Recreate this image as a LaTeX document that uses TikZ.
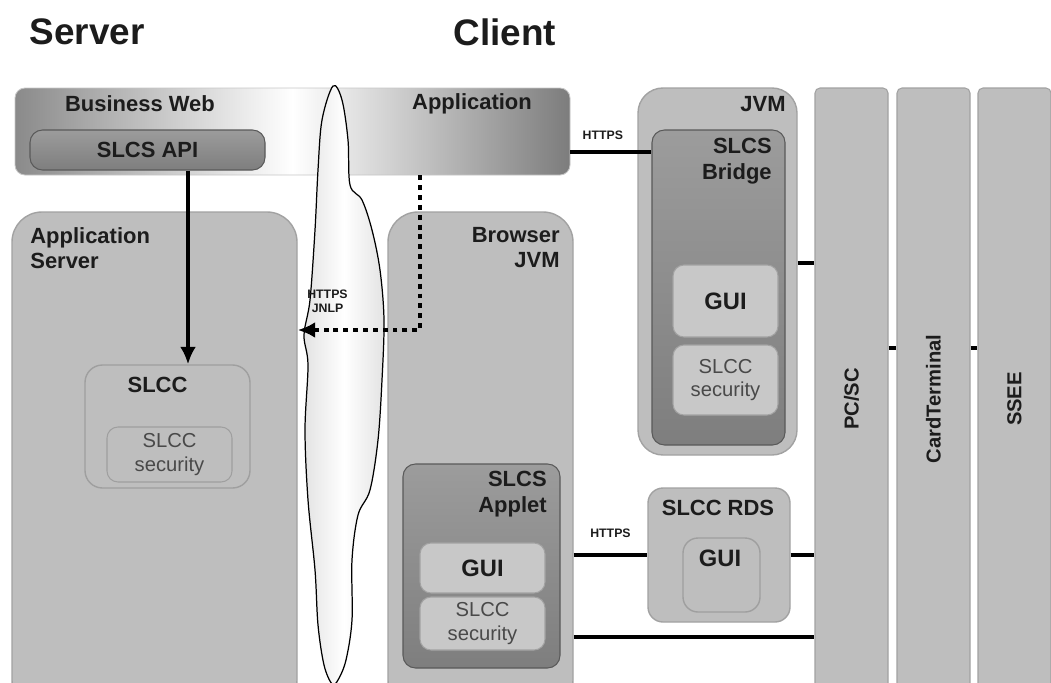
\documentclass[tikz,border=0pt]{standalone}
\usepackage{fontspec}
\setmainfont{Liberation Sans}
\usetikzlibrary{arrows.meta,positioning,calc}

\definecolor{boxgray}{HTML}{BEBEBE}
\definecolor{edgegray}{HTML}{A2A2A2}
\definecolor{comptop}{HTML}{9C9C9C}
\definecolor{compbot}{HTML}{7E7E7E}
\definecolor{palegray}{HTML}{C8C8C8}
\definecolor{bargray}{HTML}{8A8A8A}
\definecolor{inkgray}{HTML}{1C1C1C}

\begin{document}
\begin{tikzpicture}[
    outer/.style={rectangle, draw=edgegray, line width=0.8pt, fill=boxgray, rounded corners=0.6cm, inner sep=0pt},
    comp/.style={rectangle, draw=gray!70!black, line width=0.6pt, top color=comptop, bottom color=compbot, rounded corners=0.25cm, inner sep=0pt, font=\bfseries\fontsize{12.5}{14.5}\selectfont, text=inkgray},
    inner/.style={rectangle, draw=edgegray, line width=0.6pt, fill=palegray, rounded corners=0.22cm, inner sep=0pt, align=center, text=inkgray},
    col/.style={rectangle, draw=edgegray, line width=0.6pt, fill=boxgray, rounded corners=0.1cm, inner sep=0pt, rotate=90, font=\bfseries\fontsize{11.5}{13}\selectfont, text=inkgray},
    lbl/.style={inner sep=0pt, align=right, font=\bfseries\fontsize{12.5}{14.5}\selectfont, text=inkgray},
    sec/.style={font=\fontsize{11.5}{13.5}\selectfont, text=inkgray!80},
    gui/.style={font=\bfseries\fontsize{13.5}{15}\selectfont},
    small/.style={inner sep=0pt, align=center, font=\bfseries\fontsize{7}{8}\selectfont, text=inkgray},
    title/.style={inner sep=0pt, font=\bfseries\fontsize{21}{24}\selectfont, text=inkgray},
    link/.style={line width=2.3pt},
    arrow/.style={-{Latex[length=3.5mm,width=3.2mm]}, line width=2.3pt},
    dotarrow/.style={-{Latex[length=3.5mm,width=3.2mm]}, line width=2.6pt, dash pattern=on 2.8pt off 2.8pt}
]
\useasboundingbox (0,0) rectangle (21.02,13.64);
\clip (0,0) rectangle (21.02,13.64);
% titles
\node[title] (srv) at (1.74,13.0) {Server};
\node[title] (cli) at (10.1,13.0) {Client};
% business web / application bar
\node[rectangle, draw=gray!45, line width=0.5pt, rounded corners=0.2cm, left color=bargray, right color=bargray!90!black, middle color=white, minimum width=11.1cm, minimum height=1.74cm] (topbar) at (5.85,11.01) {};
\node[lbl] (bweb) at (2.8,11.56) {Business Web};
\node[lbl] (appl) at (9.44,11.56) {Application};
\node[comp, minimum width=4.7cm, minimum height=0.8cm] (slcsapi) at (2.95,10.64) {SLCS API};
% internet cloud
\draw[line width=0.7pt, left color=gray!22, right color=gray!22, middle color=white]
  plot[smooth cycle, tension=0.55] coordinates {
  (6.66,11.92) (6.84,11.64) (6.96,10.84) (7.0,9.94) (7.24,9.64) (7.44,9.04)
  (7.6,8.24) (7.68,7.24) (7.64,6.04) (7.56,4.84) (7.4,3.84) (7.16,3.34)
  (7.04,2.44) (7.04,1.24) (6.92,0.44) (6.76,0.04) (6.64,-0.04) (6.48,0.34)
  (6.36,1.14) (6.3,2.24) (6.16,3.64) (6.1,5.04) (6.16,6.34) (6.08,6.94)
  (6.2,7.64) (6.3,9.04) (6.36,10.24) (6.44,11.24)};
\node[small] (jnlp) at (6.55,7.62) {HTTPS\\JNLP};
% application server
\node[outer, minimum width=5.7cm, minimum height=9.96cm] (appsrv) at (3.09,4.42) {};
\node[lbl, align=left, anchor=north west] (appsrvlbl) at (0.6,9.1) {Application\\Server};
\node[outer, rounded corners=0.35cm, draw=gray!75, minimum width=3.3cm, minimum height=2.46cm] (slcc) at (3.35,5.11) {};
\node[lbl, anchor=north] (slcclbl) at (3.15,6.1) {SLCC};
\node[inner, sec, fill=boxgray, draw=gray!75, minimum width=2.5cm, minimum height=1.1cm] (slccsec) at (3.39,4.55) {SLCC\\security};
% browser JVM
\node[outer, minimum width=3.7cm, minimum height=9.96cm] (browser) at (9.61,4.42) {};
\node[lbl, anchor=north east] (browserlbl) at (11.2,9.1) {Browser\\JVM};
\node[comp, minimum width=3.14cm, minimum height=4.08cm] (applet) at (9.63,2.32) {};
\node[lbl, anchor=north east] (appletlbl) at (10.94,4.22) {SLCS\\Applet};
\node[inner, gui, minimum width=2.5cm, minimum height=1.0cm] (appletgui) at (9.65,2.28) {GUI};
\node[inner, sec, minimum width=2.5cm, minimum height=1.06cm] (appletsec) at (9.65,1.17) {SLCC\\security};
% standalone JVM
\node[outer, rounded corners=0.5cm, minimum width=3.18cm, minimum height=7.34cm] (jvm) at (14.35,8.21) {};
\node[lbl, anchor=north east] (jvmlbl) at (15.72,11.72) {JVM};
\node[comp, minimum width=2.66cm, minimum height=6.3cm] (bridge) at (14.37,7.89) {};
\node[lbl, anchor=north east] (bridgelbl) at (15.44,10.88) {SLCS\\Bridge};
\node[inner, gui, minimum width=2.1cm, minimum height=1.44cm] (bridgegui) at (14.51,7.62) {GUI};
\node[inner, sec, minimum width=2.1cm, minimum height=1.4cm] (bridgesec) at (14.51,6.04) {SLCC\\security};
% SLCC RDS
\node[outer, rounded corners=0.3cm, minimum width=2.84cm, minimum height=2.68cm] (rds) at (14.38,2.54) {};
\node[lbl] (rdslbl) at (14.36,3.48) {SLCC RDS};
\node[outer, rounded corners=0.3cm, draw=gray!75, minimum width=1.54cm, minimum height=1.48cm] (rdsgui) at (14.43,2.14) {};
\node[lbl, gui] (rdsguilbl) at (14.4,2.48) {GUI};
% card stack
\node[col, minimum width=12.44cm, minimum height=1.46cm] (pcsc) at (17.03,5.66) {PC/SC};
\node[col, minimum width=12.44cm, minimum height=1.46cm] (cardterm) at (18.67,5.66) {CardTerminal};
\node[col, minimum width=12.44cm, minimum height=1.46cm] (ssee) at (20.29,5.66) {SSEE};
% connectors
\coordinate (httpsup) at (12,10.6);
\coordinate (jvmlink) at (16,8.38);
\coordinate (lowlink) at (12,0.9);
\coordinate (stack) at (18,6.68);
\coordinate (turn) at (8.4,7.04);
\draw[arrow] ([xshift=0.81cm]slcsapi.south) -- ([xshift=0.81cm]slcsapi.south |- slcc.north);
\draw[dotarrow] (topbar.south -| turn) -- (turn) -- (turn -| appsrv.east);
\draw[link] (httpsup -| topbar.east) -- (httpsup -| bridge.west) node[small, pos=0.4, above=0.2cm] (https1) {HTTPS};
\draw[link] (jvmlink -| jvm.east) -- (jvmlink -| pcsc.north);
\draw[link] (rds.west -| browser.east) -- (rds.west) node[small, midway, above=0.3cm] (https2) {HTTPS};
\draw[link] (rds.east) -- (rds.east -| pcsc.north);
\draw[link] (lowlink -| browser.east) -- (lowlink -| pcsc.north);
\draw[link] (stack -| pcsc.south) -- (stack -| cardterm.north);
\draw[link] (stack -| cardterm.south) -- (stack -| ssee.north);
\end{tikzpicture}
\end{document}
